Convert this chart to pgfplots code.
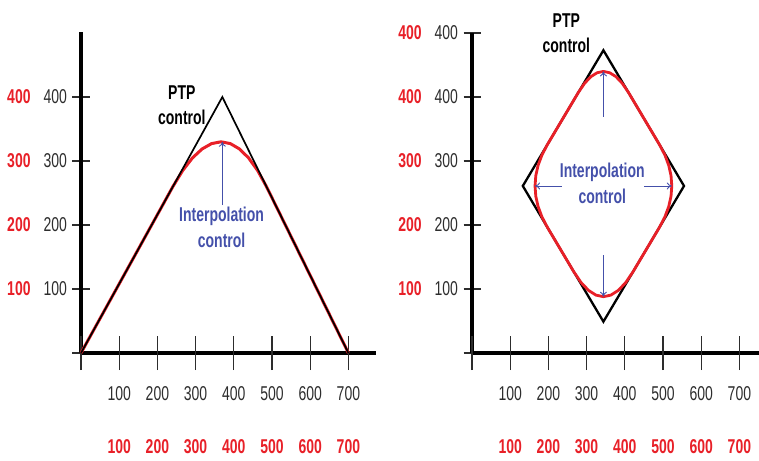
\documentclass[border=0pt]{standalone}
\usepackage{pgfplots}
\pgfplotsset{compat=1.18}
\usepackage{fontspec}
\setmainfont{Liberation Sans}[FakeStretch=0.70]
\usetikzlibrary{arrows.meta}
\definecolor{redc}{RGB}{232,32,40}
\definecolor{bluec}{RGB}{68,80,170}
\definecolor{tickgray}{RGB}{45,45,45}
\newcommand{\rl}[1]{\textcolor{redc}{\bfseries #1}}
\newcommand{\xl}[1]{#1\\[32pt]\rl{#1}}
\newcommand{\yl}[1]{\rl{#1}\hspace{13pt}#1}
\newcommand{\lf}{\fontsize{20}{25.5}\selectfont}
\pgfplotsset{
  panel/.style={
    x=0.382pt, y=0.64pt,
    anchor=origin,
    axis lines=left,
    axis line style={line width=4.2pt, -},
    xmin=0, ymin=0,
    clip=false,
    tick align=center,
    major tick length=17pt,
    tick style={line width=1.3pt, tickgray},
    xtick=\empty,
    extra x ticks={0,100,200,300,400,500,600,700},
    extra x tick labels={{},\xl{100},\xl{200},\xl{300},\xl{400},\xl{500},\xl{600},\xl{700}},
    extra x tick style={major tick length=34pt},
    every tick label/.append style={font=\fontsize{20}{21}\selectfont, text=tickgray},
    xticklabel style={align=center, anchor=north, yshift=-13pt},
    yticklabel style={anchor=east, xshift=-2pt},
  }
}
\begin{document}
\begin{tikzpicture}
\useasboundingbox (0,0) rectangle (759pt,460pt);
% Left panel
\begin{axis}[panel, at={(81pt,107pt)}, xmax=772, ymax=502,
  ytick={0,100,200,300,400},
  yticklabels={{},\yl{100},\yl{200},\yl{300},\yl{400}}]
\addplot[redc, line width=3pt, line join=round] coordinates {
 (0,0) (240.5,260) (266.3,285.2) (291.7,304.8) (317.0,318.8) (341.9,327.2)
 (366.5,330) (390.9,327.2) (414.9,318.8) (438.7,304.8) (462.3,285.2)
 (485.5,260) (700,0)};
\addplot[black, line width=1.7pt, line join=miter] coordinates {(0,0) (370,400) (700,0)};
\draw[bluec, line width=0.9pt, -{To[length=5pt,width=7pt]}] (axis cs:370,231) -- (axis cs:370,330);
\node[bluec, font=\bfseries\lf, align=center] at (axis cs:368,196) {Interpolation\\control};
\node[black, font=\bfseries\lf, align=center] at (axis cs:264,387) {PTP\\control};
\end{axis}
% Right panel
\begin{axis}[panel, at={(472pt,107pt)}, xmax=752, ymax=500,
  ytick={0,100,200,300,400,500},
  yticklabels={{},\yl{100},\yl{200},\yl{300},\yl{400},\yl{400}}]
\addplot[black, line width=2.3pt, line join=miter] coordinates {
 (344,473) (555,261) (344,49) (133,261) (344,473) (555,261)};
\addplot[redc, line width=2.8pt, line join=round] coordinates {
 (278.3,407) (294.7,421.4) (311.2,431.8) (327.6,437.9) (344,440)
 (360.4,437.9) (376.8,431.8) (393.3,421.4) (409.7,407)
 (491,325.3) (505,309.2) (515,293.2) (521,277.1) (523,261)
 (521,244.9) (515,228.9) (505,212.8) (491,196.7)
 (421.6,127) (402.2,109.9) (382.8,97.75) (363.4,90.4) (344,88)
 (324.6,90.4) (305.2,97.75) (285.8,109.9) (266.4,127)
 (197,196.7) (183,212.8) (173,228.9) (167,244.9) (165,261)
 (167,277.1) (173,293.2) (183,309.2) (197,325.3)
 (278.3,407) (294.7,421.4)};
\draw[bluec, line width=0.9pt, -{To[length=5pt,width=7pt]}] (axis cs:344,369) -- (axis cs:344,440);
\draw[bluec, line width=0.9pt, -{To[length=5pt,width=7pt]}] (axis cs:344,153) -- (axis cs:344,88);
\draw[bluec, line width=0.9pt, -{To[length=5pt,width=7pt]}] (axis cs:235,261) -- (axis cs:165,261);
\draw[bluec, line width=0.9pt, -{To[length=5pt,width=7pt]}] (axis cs:451,261) -- (axis cs:523,261);
\node[bluec, font=\bfseries\lf, align=center] at (axis cs:341,265) {Interpolation\\control};
\node[black, font=\bfseries\lf, align=center] at (axis cs:247,500) {PTP\\control};
\end{axis}
\end{tikzpicture}
\end{document}
